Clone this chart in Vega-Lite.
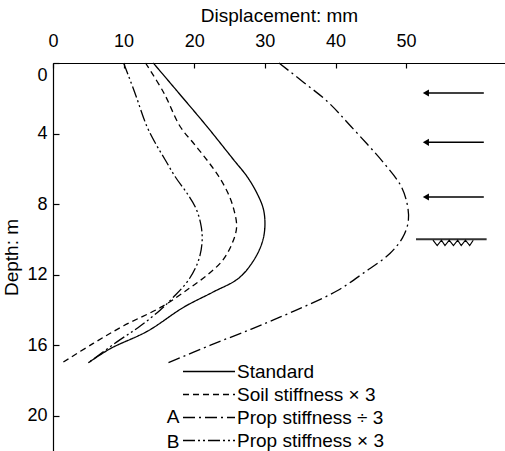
{
  "$schema": "https://vega.github.io/schema/vega-lite/v6.json",
  "width": 452,
  "height": 388,
  "autosize": "none",
  "padding": {"left": 53, "top": 63, "right": 0, "bottom": 0},
  "background": "white",
  "config": {
    "view": {"stroke": null},
    "font": "Liberation Sans",
    "axis": {
      "labelFont": "Liberation Sans",
      "titleFont": "Liberation Sans",
      "labelColor": "black",
      "titleColor": "black",
      "domainColor": "black",
      "tickColor": "black",
      "grid": false,
      "titleFontWeight": "normal",
      "labelFontSize": 18,
      "titleFontSize": 19,
      "domainWidth": 1.2,
      "tickWidth": 1.2
    }
  },
  "datasets": {
    "curves": [
      {"series": "Standard", "disp": 14.2, "depth": 0},
      {"series": "Standard", "disp": 17.8, "depth": 1.7},
      {"series": "Standard", "disp": 21.8, "depth": 3.6},
      {"series": "Standard", "disp": 25.6, "depth": 5.5},
      {"series": "Standard", "disp": 27.5, "depth": 6.45},
      {"series": "Standard", "disp": 28.9, "depth": 7.4},
      {"series": "Standard", "disp": 29.8, "depth": 8.3},
      {"series": "Standard", "disp": 30.0, "depth": 9.3},
      {"series": "Standard", "disp": 29.6, "depth": 10.2},
      {"series": "Standard", "disp": 28.4, "depth": 11.2},
      {"series": "Standard", "disp": 26.3, "depth": 12.2},
      {"series": "Standard", "disp": 22.6, "depth": 13.0},
      {"series": "Standard", "disp": 18.5, "depth": 13.85},
      {"series": "Standard", "disp": 13.4, "depth": 15.2},
      {"series": "Standard", "disp": 8.1, "depth": 16.2},
      {"series": "Standard", "disp": 5.0, "depth": 17.0},

      {"series": "Soil stiffness × 3", "disp": 13.1, "depth": 0},
      {"series": "Soil stiffness × 3", "disp": 15.7, "depth": 1.7},
      {"series": "Soil stiffness × 3", "disp": 18.0, "depth": 3.6},
      {"series": "Soil stiffness × 3", "disp": 19.9, "depth": 4.55},
      {"series": "Soil stiffness × 3", "disp": 21.8, "depth": 5.5},
      {"series": "Soil stiffness × 3", "disp": 23.5, "depth": 6.45},
      {"series": "Soil stiffness × 3", "disp": 24.8, "depth": 7.4},
      {"series": "Soil stiffness × 3", "disp": 25.6, "depth": 8.3},
      {"series": "Soil stiffness × 3", "disp": 26.0, "depth": 9.3},
      {"series": "Soil stiffness × 3", "disp": 25.4, "depth": 10.2},
      {"series": "Soil stiffness × 3", "disp": 24.0, "depth": 11.2},
      {"series": "Soil stiffness × 3", "disp": 21.9, "depth": 12.0},
      {"series": "Soil stiffness × 3", "disp": 19.2, "depth": 12.8},
      {"series": "Soil stiffness × 3", "disp": 15.5, "depth": 13.8},
      {"series": "Soil stiffness × 3", "disp": 10.0, "depth": 14.9},
      {"series": "Soil stiffness × 3", "disp": 5.7, "depth": 15.9},
      {"series": "Soil stiffness × 3", "disp": 1.3, "depth": 17.0},

      {"series": "Prop stiffness ÷ 3", "disp": 32.0, "depth": 0},
      {"series": "Prop stiffness ÷ 3", "disp": 35.5, "depth": 1.1},
      {"series": "Prop stiffness ÷ 3", "disp": 38.9, "depth": 2.2},
      {"series": "Prop stiffness ÷ 3", "disp": 42.2, "depth": 3.6},
      {"series": "Prop stiffness ÷ 3", "disp": 46.9, "depth": 5.7},
      {"series": "Prop stiffness ÷ 3", "disp": 49.3, "depth": 7.0},
      {"series": "Prop stiffness ÷ 3", "disp": 50.2, "depth": 8.1},
      {"series": "Prop stiffness ÷ 3", "disp": 50.3, "depth": 9.0},
      {"series": "Prop stiffness ÷ 3", "disp": 49.5, "depth": 9.9},
      {"series": "Prop stiffness ÷ 3", "disp": 47.7, "depth": 10.8},
      {"series": "Prop stiffness ÷ 3", "disp": 44.0, "depth": 11.9},
      {"series": "Prop stiffness ÷ 3", "disp": 40.3, "depth": 12.9},
      {"series": "Prop stiffness ÷ 3", "disp": 36.2, "depth": 13.7},
      {"series": "Prop stiffness ÷ 3", "disp": 32.2, "depth": 14.4},
      {"series": "Prop stiffness ÷ 3", "disp": 28.0, "depth": 15.1},
      {"series": "Prop stiffness ÷ 3", "disp": 22.3, "depth": 16.0},
      {"series": "Prop stiffness ÷ 3", "disp": 16.3, "depth": 17.0},

      {"series": "Prop stiffness × 3", "disp": 10.0, "depth": 0},
      {"series": "Prop stiffness × 3", "disp": 11.6, "depth": 1.7},
      {"series": "Prop stiffness × 3", "disp": 13.3, "depth": 3.6},
      {"series": "Prop stiffness × 3", "disp": 14.5, "depth": 4.55},
      {"series": "Prop stiffness × 3", "disp": 15.9, "depth": 5.5},
      {"series": "Prop stiffness × 3", "disp": 17.3, "depth": 6.45},
      {"series": "Prop stiffness × 3", "disp": 19.0, "depth": 7.4},
      {"series": "Prop stiffness × 3", "disp": 20.3, "depth": 8.3},
      {"series": "Prop stiffness × 3", "disp": 21.0, "depth": 9.3},
      {"series": "Prop stiffness × 3", "disp": 21.1, "depth": 10.2},
      {"series": "Prop stiffness × 3", "disp": 20.6, "depth": 11.2},
      {"series": "Prop stiffness × 3", "disp": 19.2, "depth": 12.3},
      {"series": "Prop stiffness × 3", "disp": 17.0, "depth": 13.3},
      {"series": "Prop stiffness × 3", "disp": 15.2, "depth": 14.0},
      {"series": "Prop stiffness × 3", "disp": 12.4, "depth": 14.9},
      {"series": "Prop stiffness × 3", "disp": 9.1, "depth": 15.8},
      {"series": "Prop stiffness × 3", "disp": 5.0, "depth": 17.0}
    ],
    "arrows": [
      {"depth": 1.7, "disp": 52.8, "disp2": 61.0},
      {"depth": 4.5, "disp": 52.8, "disp2": 61.0},
      {"depth": 7.6, "disp": 52.8, "disp2": 61.0}
    ],
    "ground": [
      {"depth": 10.0, "disp": 51.4, "disp2": 61.4}
    ],
    "hatch": [
      {"i": 1, "disp": 53.8, "depth": 10.05},
      {"i": 2, "disp": 54.4, "depth": 10.35},
      {"i": 3, "disp": 55.0, "depth": 10.05},
      {"i": 4, "disp": 55.5, "depth": 10.35},
      {"i": 5, "disp": 56.1, "depth": 10.05},
      {"i": 6, "disp": 56.7, "depth": 10.35},
      {"i": 7, "disp": 57.3, "depth": 10.05},
      {"i": 8, "disp": 57.8, "depth": 10.35},
      {"i": 9, "disp": 58.4, "depth": 10.05},
      {"i": 10, "disp": 59.0, "depth": 10.35},
      {"i": 11, "disp": 59.5, "depth": 10.05}
    ],
    "one": [{}]
  },
  "layer": [
    {
      "data": {"name": "curves"},
      "mark": {"type": "line", "color": "black", "strokeWidth": 1.3, "interpolate": "catmull-rom"},
      "encoding": {
        "x": {
          "field": "disp", "type": "quantitative",
          "scale": {"domain": [0, 64], "nice": false, "zero": false},
          "axis": {
            "orient": "top", "title": "Displacement: mm",
            "values": [0, 10, 20, 30, 40, 50],
            "tickSize": -5, "labelPadding": 18, "titlePadding": 7,
            "labelFlush": false
          }
        },
        "y": {
          "field": "depth", "type": "quantitative",
          "scale": {"domain": [0, 22], "reverse": true, "nice": false, "zero": false},
          "axis": {
            "title": "Depth: m",
            "values": [0, 4, 8, 12, 16, 20],
            "tickSize": -6, "labelPadding": 12, "titlePadding": 5,
            "labelFlush": false,
            "labelOffset": {"condition": {"test": "datum.value === 0", "value": 12}, "value": 0}
          }
        },
        "order": {"field": "depth", "type": "quantitative"},
        "strokeDash": {
          "field": "series", "type": "nominal",
          "scale": {
            "domain": ["Standard", "Soil stiffness × 3", "Prop stiffness ÷ 3", "Prop stiffness × 3"],
            "range": [[1, 0], [6, 4], [12, 4, 2, 4], [12, 3, 2, 3, 2, 3]]
          },
          "legend": {
            "orient": "none", "legendX": 129, "legendY": 297,
            "title": null, "padding": 0, "rowPadding": 0,
            "symbolType": "stroke", "symbolSize": 2704, "symbolStrokeWidth": 1.3,
            "symbolStrokeColor": "black", "clipHeight": 23,
            "labelFont": "Liberation Sans", "labelFontSize": 19, "labelColor": "black",
            "labelOffset": 1, "labelLimit": 300
          }
        }
      }
    },
    {
      "data": {"name": "arrows"},
      "mark": {"type": "rule", "color": "black", "strokeWidth": 1.5},
      "encoding": {
        "x": {"field": "disp", "type": "quantitative"},
        "x2": {"field": "disp2"},
        "y": {"field": "depth", "type": "quantitative"}
      }
    },
    {
      "data": {"name": "arrows"},
      "mark": {"type": "point", "shape": "triangle-left", "filled": true, "color": "black", "size": 50, "opacity": 1},
      "encoding": {
        "x": {"field": "disp", "type": "quantitative"},
        "y": {"field": "depth", "type": "quantitative"}
      }
    },
    {
      "data": {"name": "ground"},
      "mark": {"type": "rule", "color": "#333333", "strokeWidth": 2},
      "encoding": {
        "x": {"field": "disp", "type": "quantitative"},
        "x2": {"field": "disp2"},
        "y": {"field": "depth", "type": "quantitative"}
      }
    },
    {
      "data": {"name": "hatch"},
      "mark": {"type": "line", "color": "black", "strokeWidth": 1.2},
      "encoding": {
        "x": {"field": "disp", "type": "quantitative"},
        "y": {"field": "depth", "type": "quantitative"},
        "order": {"field": "i", "type": "quantitative"}
      }
    },
    {
      "data": {"name": "one"},
      "mark": {"type": "text", "text": "A", "font": "Liberation Sans", "fontSize": 19, "color": "black", "align": "center", "baseline": "middle"},
      "encoding": {
        "x": {"datum": 17.0, "type": "quantitative"},
        "y": {"datum": 20.1, "type": "quantitative"}
      }
    },
    {
      "data": {"name": "one"},
      "mark": {"type": "text", "text": "B", "font": "Liberation Sans", "fontSize": 19, "color": "black", "align": "center", "baseline": "middle"},
      "encoding": {
        "x": {"datum": 17.0, "type": "quantitative"},
        "y": {"datum": 21.5, "type": "quantitative"}
      }
    }
  ]
}
